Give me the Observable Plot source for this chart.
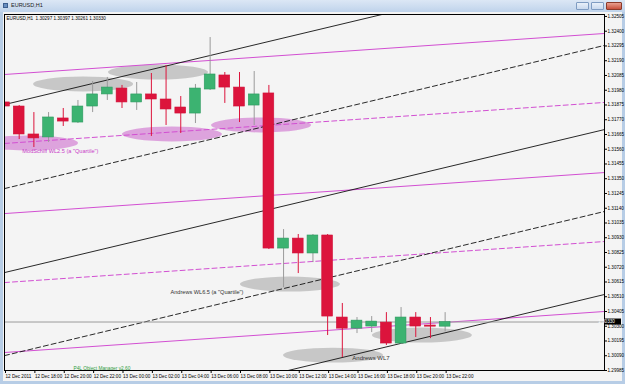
<!DOCTYPE html>
<html>
<head>
<meta charset="utf-8">
<script src="https://cdn.jsdelivr.net/npm/d3@7"></script>
<script src="https://cdn.jsdelivr.net/npm/@observablehq/plot@0.6"></script>
<style>
  body { margin: 0; background: #fff; }
  #win { position: relative; width: 625px; height: 384px; background: #b7cde6; overflow: hidden; font-family: 'Liberation Sans', Arial, sans-serif; }
  #titlebar { position: absolute; left: 0; top: 0; width: 625px; height: 12px; background: linear-gradient(#dce7f5, #bfd3eb); }
  #titletext { position: absolute; left: 11px; top: 2px; font-size: 5.5px; color: #1a1a1a; }
  #icon { position: absolute; left: 3px; top: 3px; width: 5px; height: 5px; background: #6a8fc0; border: 1px solid #3d5f8f; box-sizing: border-box; }
  .btn { position: absolute; top: 2px; height: 8px; border: 1px solid #7f9cc2; box-sizing: border-box; border-radius: 1px; background: linear-gradient(#e9f0f9, #c9d9ee); }
  #interior { position: absolute; left: 3px; top: 12px; width: 619px; height: 369px; background: #f4f4f4; }
  #chart { position: absolute; left: 0; top: 0; }
</style>
</head>
<body>
<div id="win">
  <div id="titlebar">
    <div id="icon"></div>
    <div id="titletext">EURUSD,H1</div>
    <div class="btn" style="left:576px;width:13px;"></div>
    <div class="btn" style="left:591px;width:13px;"></div>
    <div class="btn" style="left:606px;width:16px;background:linear-gradient(#e8a090,#c8503c);border-color:#8b3a2a;"></div>
  </div>
  <div id="interior"></div>
  <div id="chart"></div>
</div>
<script>
// ---------- DATA ----------
const symbol = "EURUSD,H1";
const barTimes = [
  "2011-12-12T16:00","2011-12-12T17:00","2011-12-12T18:00","2011-12-12T19:00","2011-12-12T20:00",
  "2011-12-12T21:00","2011-12-12T22:00","2011-12-12T23:00","2011-12-13T00:00","2011-12-13T01:00",
  "2011-12-13T02:00","2011-12-13T03:00","2011-12-13T04:00","2011-12-13T05:00","2011-12-13T06:00",
  "2011-12-13T07:00","2011-12-13T08:00","2011-12-13T09:00","2011-12-13T10:00","2011-12-13T11:00",
  "2011-12-13T12:00","2011-12-13T13:00","2011-12-13T14:00","2011-12-13T15:00","2011-12-13T16:00",
  "2011-12-13T17:00","2011-12-13T18:00","2011-12-13T19:00","2011-12-13T20:00","2011-12-13T21:00",
  "2011-12-13T22:00"
];
const opens  = [1.31893,1.31864,1.31665,1.31644,1.31779,1.31750,1.31864,1.31950,1.31992,1.31893,
                1.31950,1.31914,1.31857,1.31814,1.31985,1.32085,1.31999,1.31871,1.31957,1.30853,
                1.30924,1.30818,1.30946,1.30362,1.30283,1.30298,1.30326,1.30177,1.30362,1.30305,1.30297];
const highs  = [1.31907,1.31871,1.31821,1.31821,1.31850,1.31907,1.32042,1.32071,1.32014,1.32035,
                1.32099,1.32156,1.31935,1.32021,1.32355,1.32106,1.32106,1.32113,1.32014,1.30988,
                1.30953,1.30953,1.30953,1.30462,1.30362,1.30369,1.30397,1.30433,1.30397,1.30362,1.30397];
const lows   = [1.31850,1.31629,1.31572,1.31608,1.31722,1.31743,1.31821,1.31907,1.31850,1.31836,
                1.31651,1.31729,1.31672,1.31743,1.31978,1.31886,1.31750,1.31729,1.30846,1.30575,
                1.30675,1.30753,1.30234,1.30077,1.30248,1.30255,1.30163,1.30170,1.30220,1.30212,1.30261];
const closes = [1.31864,1.31665,1.31637,1.31786,1.31757,1.31864,1.31950,1.31999,1.31893,1.31950,
                1.31914,1.31843,1.31814,1.31992,1.32092,1.31999,1.31864,1.31950,1.30853,1.30924,
                1.30818,1.30946,1.30369,1.30283,1.30340,1.30333,1.30177,1.30362,1.30298,1.30297,1.30330];

// visible time window and price window
const xStart = "2011-12-12T16:00";
const xEnd   = "2011-12-14T08:51";
const yMin = 1.29985, yMax = 1.32519;

// x-axis ticks and labels
const xTicks = ["2011-12-12T16:00","2011-12-12T18:00","2011-12-12T20:00","2011-12-12T22:00",
                "2011-12-13T00:00","2011-12-13T02:00","2011-12-13T04:00","2011-12-13T06:00",
                "2011-12-13T08:00","2011-12-13T10:00","2011-12-13T12:00","2011-12-13T14:00",
                "2011-12-13T16:00","2011-12-13T18:00","2011-12-13T20:00","2011-12-13T22:00"];
const xTickLabels = ["12 Dec 2011","12 Dec 18:00","12 Dec 20:00","12 Dec 22:00",
                     "13 Dec 00:00","13 Dec 02:00","13 Dec 04:00","13 Dec 06:00",
                     "13 Dec 08:00","13 Dec 10:00","13 Dec 12:00","13 Dec 14:00",
                     "13 Dec 16:00","13 Dec 18:00","13 Dec 20:00","13 Dec 22:00"];
// y-axis tick labels
const yTickLabels = ["1.32505","1.32400","1.32295","1.32190","1.32085","1.31980","1.31875","1.31770",
                     "1.31665","1.31560","1.31455","1.31350","1.31245","1.31140","1.31035","1.30930",
                     "1.30825","1.30720","1.30615","1.30510","1.30405","1.30300","1.30195","1.30090","1.29985"];

// pitchfork lines: price at window start and at window end
const lineIds     = ["M1","M2","M3","M4","M5","B1","B2","B3","B4","B5"];
const lineStart   = [1.32092,1.31601,1.31102,1.30611,1.30113, 1.31878,1.31280,1.30682,1.30091,1.29500];
const lineEnd     = [1.32384,1.31893,1.31394,1.30903,1.30405, 1.32897,1.32299,1.31700,1.31117,1.30526];
const lineKind    = ["magenta","magentaDash","magenta","magentaDash","magenta",
                     "black","blackDash","black","blackDash","black"];

// highlight ellipses: centre time / price, kind
const ellTimes  = ["2011-12-12T21:23","2011-12-13T02:29","2011-12-13T11:28","2011-12-13T14:24","2011-12-13T20:27",
                   "2011-12-12T17:38","2011-12-13T03:26","2011-12-13T09:30"];
const ellPrices = [1.32021,1.32106,1.30597,1.30091,1.30234, 1.31601,1.31665,1.31729];
const ellKind   = ["gray","gray","gray","gray","gray","pink","pink","pink"];
const ellHalfHours = 3.4, ellHalfPrice = 0.00053;

// annotation labels
const noteTexts  = ["ModSchiff WL2.5 (a \"Quartile\")","Andrews WL6.5 (a \"Quartile\")","Andrews WL7"];
const noteTimes  = ["2011-12-12T17:13","2011-12-13T03:18","2011-12-13T15:41"];
const notePrices = [1.31544,1.30540,1.30070];
const noteColors = ["#c93cc9","#333333","#333333"];
const noteSizes  = [5.6,5.6,6];
const managerText = "P4L Object Manager v2.60";

// ---------- BUILD ----------
const T = s => new Date(s + ":00Z");
const bars = barTimes.map((t, i) => ({t: T(t), o: opens[i], h: highs[i], l: lows[i], c: closes[i]}));
const bull = bars.filter(d => d.c >= d.o);
const bear = bars.filter(d => d.c < d.o);
const last = bars[bars.length - 1];
const halfBody = 22 * 60 * 1000;

const lineRows = [];
lineIds.forEach((id, i) => {
  lineRows.push({id, kind: lineKind[i], t: T(xStart), p: lineStart[i]});
  lineRows.push({id, kind: lineKind[i], t: T(xEnd), p: lineEnd[i]});
});
const linesOf = k => lineRows.filter(d => d.kind === k);

const ells = ellTimes.map((t, i) => ({t: T(t), p: ellPrices[i], kind: ellKind[i]}));
const notes = noteTexts.map((s, i) => ({s, t: T(noteTimes[i]), p: notePrices[i], color: noteColors[i], size: noteSizes[i]}));
const labelMap = new Map(xTicks.map((t, i) => [+T(t), xTickLabels[i]]));
const yTicks = yTickLabels.map(Number);

function ellipseMark(index, scales, values, dims) {
  const {x, y} = scales;
  const g = d3.create("svg:g");
  const id = "clipEll";
  g.append("clipPath").attr("id", id).append("rect")
    .attr("x", dims.marginLeft).attr("y", dims.marginTop)
    .attr("width", dims.width - dims.marginLeft - dims.marginRight)
    .attr("height", dims.height - dims.marginTop - dims.marginBottom);
  const gg = g.append("g").attr("clip-path", `url(#${id})`);
  for (const e of ells) {
    const cx = x(e.t), cy = y(e.p);
    const rx = x(new Date(+e.t + ellHalfHours * 3600e3)) - cx;
    const ry = y(e.p - ellHalfPrice) - cy;
    gg.append("ellipse").attr("cx", cx).attr("cy", cy).attr("rx", rx).attr("ry", ry)
      .attr("fill", e.kind === "gray" ? "#bcbcbc" : "#d78ed7")
      .attr("fill-opacity", e.kind === "gray" ? 0.8 : 0.8);
  }
  return g.node();
}

function priceBox(index, scales, values, dims) {
  const g = d3.create("svg:g");
  const yy = scales.y(last.c);
  const x0 = dims.width - dims.marginRight;
  g.append("rect").attr("x", x0).attr("y", yy - 3).attr("width", 17).attr("height", 6).attr("fill", "#000");
  g.append("text").attr("x", x0 + 2.5).attr("y", yy).attr("dy", "0.35em")
    .attr("fill", "#fff").attr("font-size", 4.6).text(last.c.toFixed(5));
  return g.node();
}

const chart = Plot.plot({
  width: 625, height: 384,
  marginLeft: 4, marginRight: 21, marginTop: 14, marginBottom: 14,
  style: {background: "transparent", fontFamily: "'Liberation Sans', Arial, sans-serif", fontSize: "4.6px", overflow: "visible"},
  x: {type: "utc", domain: [T(xStart), T(xEnd)]},
  y: {domain: [yMin, yMax]},
  marks: [
    Plot.frame({fill: "#f4f4f4"}),
    ellipseMark,
    Plot.line(linesOf("magenta"), {x: "t", y: "p", z: "id", stroke: "#d24fd2", strokeWidth: 1, clip: true}),
    Plot.line(linesOf("magentaDash"), {x: "t", y: "p", z: "id", stroke: "#d24fd2", strokeWidth: 1, strokeDasharray: "5,3", clip: true}),
    Plot.line(linesOf("black"), {x: "t", y: "p", z: "id", stroke: "#111", strokeWidth: 0.9, clip: true}),
    Plot.line(linesOf("blackDash"), {x: "t", y: "p", z: "id", stroke: "#111", strokeWidth: 0.9, strokeDasharray: "5,3", clip: true}),
    Plot.ruleY([last.c], {stroke: "#9a9a9a", strokeWidth: 1}),
    Plot.ruleX(bear, {x: "t", y1: "l", y2: "h", stroke: "#dc143c", strokeWidth: 1, clip: true}),
    Plot.ruleX(bull, {x: "t", y1: "l", y2: "h", stroke: "#9a9a9a", strokeWidth: 1, clip: true}),
    Plot.rect(bear, {x1: d => new Date(+d.t - halfBody), x2: d => new Date(+d.t + halfBody), y1: "o", y2: "c", fill: "#dc143c", stroke: "#d0123a", strokeWidth: 0.6, clip: true}),
    Plot.rect(bull, {x1: d => new Date(+d.t - halfBody), x2: d => new Date(+d.t + halfBody), y1: "o", y2: "c", fill: "#3cb371", stroke: "#2e9960", strokeWidth: 0.6, clip: true}),
    Plot.text(notes, {x: "t", y: "p", text: "s", fill: "color", fontSize: d => d.size, textAnchor: "start"}),
    Plot.text([`${symbol}  ${last.o.toFixed(5)} ${last.h.toFixed(5)} ${last.l.toFixed(5)} ${last.c.toFixed(5)}`],
      {frameAnchor: "top-left", dx: 2, dy: 2, textAnchor: "start", lineAnchor: "top", fontSize: 4.6, fill: "#000"}),
    Plot.text([managerText], {frameAnchor: "bottom-left", dx: 69, dy: -1, textAnchor: "start", lineAnchor: "bottom", fontSize: 4.8, fill: "#2f9e3f"}),
    Plot.axisX({ticks: xTicks.map(T), tickFormat: d => labelMap.get(+d), tickSize: 3, tickPadding: 1,
      textAnchor: "start", dx: 1, fontSize: 4.6, label: null}),
    Plot.axisY({anchor: "right", ticks: yTicks, tickFormat: d => d.toFixed(5), tickSize: 2, tickPadding: 1,
      fontSize: 4.6, label: null}),
    Plot.frame({stroke: "#000", strokeWidth: 1}),
    priceBox
  ]
});
document.getElementById("chart").appendChild(chart);
</script>
</body>
</html>
